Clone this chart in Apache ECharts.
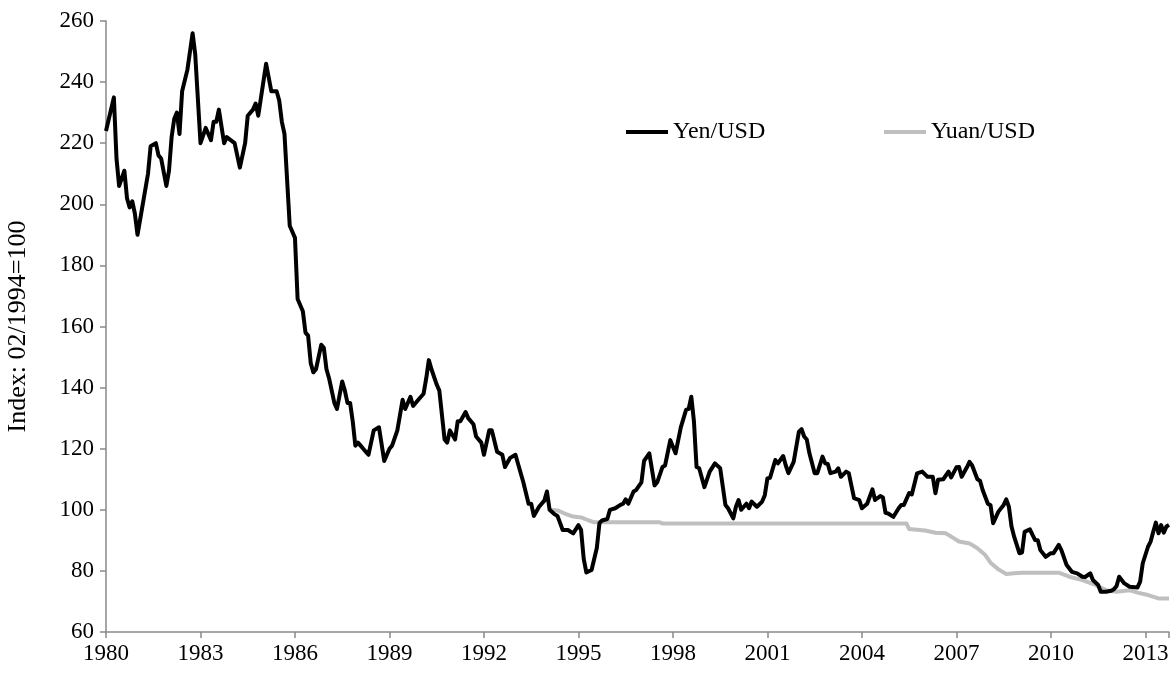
<!DOCTYPE html>
<html>
<head>
<meta charset="utf-8">
<script src="https://cdn.jsdelivr.net/npm/echarts@6/dist/echarts.min.js"></script>
<style>
html,body{margin:0;padding:0;background:#fff;}
#chart{width:1173px;height:679px;}
</style>
</head>
<body>
<div id="chart"></div>
<script>
// Month offsets are counted from January 1980 (0 = Jan 1980, 169 = Feb 1994).
const startYear = 1980;
const xTickLabels = ['1980','1983','1986','1989','1992','1995','1998','2001','2004','2007','2010','2013'];
const yTickLabels = ['60','80','100','120','140','160','180','200','220','240','260'];
const seriesNames = ['Yen/USD', 'Yuan/USD'];

const yenMonths = [0,3,4,5,7,8,9,10,11,12,14,16,17,19,20,21,23,24,25,26,27,28,29,31,33,34,36,38,40,41,42,43,45,46,49,51,53,54,56,57,58,61,63,65,66,67,68,70,71,72,73,75,76,77,78,79,80,82,83,84,85,87,88,90,91,92,93,94,95,96,97,98,100,102,104,106,108,109,111,113,114,116,117,119,121,122,123,124,126,127,129,130,131,133,134,135,137,138,140,141,143,144,146,147,149,151,152,154,156,157,159,161,162,163,165,167,168,169,171,172,174,176,178,180,181,182,183,185,187,188,189,191,192,194,196,197,198,199,201,202,204,205,207,209,210,212,213,215,217,219,221,222,223,224,225,226,228,230,232,234,236,237,239,240,241,242,244,245,246,248,250,251,252,253,255,256,258,259,260,262,264,265,266,267,268,270,271,273,274,275,276,278,279,280,282,283,285,287,288,290,292,293,295,296,297,298,300,302,303,304,306,307,309,311,313,315,316,317,319,321,322,324,325,326,328,329,330,332,333,334,336,337,338,340,342,343,344,345,346,348,349,350,352,353,354,355,356,358,360,361,363,364,366,368,370,372,373,375,376,378,379,381,383,384,385,386,388,390,393,394,395,397,398,399,400,401,402,403,404,405];
const yenValues = [224,235,215,206,211,202,199,201,197,190,200,210,219,220,216,215,206,211,222,228,230,223,237,244,256,249,220,225,221,227,227,231,220,222,220,212,220,229,231,233,229,246,237,237,234,227,223,193,191,189,169,165,158,157,148,145,146,154,153,146,143,135,133,142,139,135,135,129,121,122,121,120,118,126,127,116,120,121,126,136,133,137,134,136,138,143,149,146,141,139,123,122,126,123,129,129,132,130,128,124,122,118,126,126,119,118,114,117,118,115,109,102,102,98,101,103,106,100,98.5,98,93.4,93.4,92.3,95,93.4,84,79.5,80.3,87.5,95.6,96.5,97,100,100.5,101.6,102,103.4,102,106,106.5,109,116,118.5,108,109,114,114.5,122.8,118.5,127,132.7,133,137,129,114,113.6,107.4,112.5,115.2,113.6,101.6,100.5,97.2,101,103.2,100,102,100.5,102.7,101,102.7,104.8,110.3,110.5,116.3,115.2,117.6,114.5,112,115.7,125.6,126.4,124,123,118.5,112,112,117.4,115.2,115,112,112.5,113.6,110.8,112.5,112,103.8,103.2,100.5,102,106.7,103.2,104.5,104,99,98.8,97.7,100.5,101.6,101.6,105.5,105,111.9,112.5,110.8,110.8,105.4,109.8,110,112.5,110.6,113.9,114,110.8,113.9,115.7,114.5,110,109.5,106.5,102,101.5,95.6,99.4,101.6,103.4,101,94.5,91.2,85.8,86,92.8,93.6,91.8,90.1,90,86.8,84.6,85.8,85.8,88.5,86.8,81.9,79.7,79.2,78.1,78,79.2,77,75.4,73.2,73.2,73.5,74,75,78.1,75.9,74.8,74.6,76.5,82.5,87.9,89.6,92.8,95.8,92.3,95,92.5,94.5,95];

const yuanMonths = [169,172,175,178,181,184,186,211,212,305,306,312,316,320,322,325,329,332,335,337,340,343,346,349,353,363,367,372,377,381,385,390,393,397,401,405];
const yuanValues = [100,99.8,98.7,97.8,97.5,96.5,95.9,95.9,95.5,95.5,93.7,93.2,92.5,92.3,91.2,89.6,89,87.4,85.2,82.7,80.5,79,79.2,79.4,79.4,79.4,78.1,77,75.4,73.7,73.2,73.7,72.9,72.1,71,71];

const lastMonth = 405;

function toPairs(months, values) {
  return months.map((m, i) => [startYear + m / 12, values[i]]);
}

const chart = echarts.init(document.getElementById('chart'), null, {renderer: 'canvas'});
const font = '"Liberation Serif", "Times New Roman", serif';
const axisGrey = '#898989';

chart.setOption({
  animation: false,
  backgroundColor: '#ffffff',
  grid: {left: 106, right: 4, top: 21, bottom: 47, containLabel: false, outerBoundsMode: 'none'},
  legend: [
    {
      data: [{name: seriesNames[0], icon: 'rect'}],
      left: 626, top: 120, padding: 0,
      itemWidth: 42, itemHeight: 4,
      textStyle: {fontFamily: font, fontSize: 24, color: '#000'}
    },
    {
      data: [{name: seriesNames[1], icon: 'rect'}],
      left: 884, top: 120, padding: 0,
      itemWidth: 42, itemHeight: 4,
      textStyle: {fontFamily: font, fontSize: 24, color: '#000'}
    }
  ],
  xAxis: {
    type: 'value',
    min: startYear,
    max: startYear + lastMonth / 12,
    interval: 3,
    splitLine: {show: false},
    axisLine: {show: true, lineStyle: {color: axisGrey, width: 1.5}},
    axisTick: {show: true, length: 6, lineStyle: {color: axisGrey, width: 1.5}},
    axisLabel: {
      fontFamily: font, fontSize: 23, color: '#000', margin: 10,
      formatter: v => {
        const idx = Math.round((v - startYear) / 3);
        return (Math.abs(v - (startYear + idx * 3)) < 1e-6 && xTickLabels[idx]) ? xTickLabels[idx] : '';
      }
    }
  },
  yAxis: {
    type: 'value',
    min: 60, max: 260, interval: 20,
    name: 'Index: 02/1994=100',
    nameLocation: 'middle',
    nameGap: 75,
    nameRotate: 90,
    nameTextStyle: {fontFamily: font, fontSize: 26, color: '#000'},
    splitLine: {show: false},
    axisLine: {show: true, lineStyle: {color: axisGrey, width: 1.5}},
    axisTick: {show: true, length: 6, lineStyle: {color: axisGrey, width: 1.5}},
    axisLabel: {
      fontFamily: font, fontSize: 23, color: '#000', margin: 12,
      formatter: v => { const i = Math.round((v - 60) / 20); return yTickLabels[i] || ''; }
    }
  },
  series: [
    {
      name: seriesNames[0], type: 'line', data: toPairs(yenMonths, yenValues),
      showSymbol: false, symbol: 'none',
      lineStyle: {color: '#000000', width: 4, join: 'round'},
      itemStyle: {color: '#000000'}, z: 3
    },
    {
      name: seriesNames[1], type: 'line', data: toPairs(yuanMonths, yuanValues),
      showSymbol: false, symbol: 'none',
      lineStyle: {color: '#bfbfbf', width: 4, join: 'round'},
      itemStyle: {color: '#bfbfbf'}, z: 2
    }
  ]
});
</script>
</body>
</html>
